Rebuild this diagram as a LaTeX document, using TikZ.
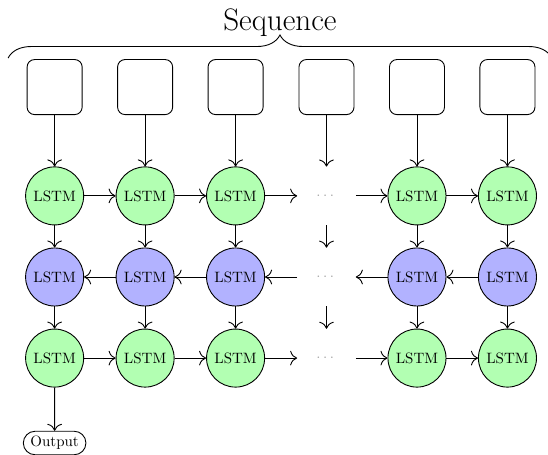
\documentclass[tikz,border=0pt]{standalone}
\usepackage{amsmath}
\usepackage{tikz}
\usetikzlibrary{arrows.meta,decorations.pathreplacing,shapes.misc}

\tikzset{
    seqbox/.style = {draw, rounded corners=5pt, minimum size=1.29cm, line width=0.6pt},
    cell/.style = {circle, minimum size=1.36cm, inner sep=0pt},
    fwd/.style = {cell, draw, fill=green!30, line width=0.6pt},
    bwd/.style = {cell, draw, fill=blue!30, line width=0.6pt},
    gap/.style = {cell, text=gray!70},
    outnode/.style = {draw, rounded rectangle, line width=0.6pt},
    link/.style = {-{To[scale=1.6]}, line width=0.6pt}
}

\begin{document}
\begin{tikzpicture}
        \useasboundingbox (0, 0) rectangle (12.84, 10.64);
        % title and brace
        \node[font = {\huge}, black] (title) at (6.56, 10.11) {Sequence};
        \draw[line width=0.6pt, decorate, decoration={brace, amplitude=0.54cm}] (0.19, 9.28) -- (12.93, 9.28);
        % input boxes
        \node[seqbox] (s1) at (1.28, 8.60) {};
        \node[seqbox] (s2) at (3.40, 8.60) {};
        \node[seqbox] (s3) at (5.52, 8.60) {};
        \node[seqbox] (s4) at (7.65, 8.60) {};
        \node[seqbox] (s5) at (9.77, 8.60) {};
        \node[seqbox] (s6) at (11.89, 8.60) {};
        % first layer
        \node[fwd] (a1) at (1.28, 6.05) {LSTM};
        \node[fwd] (a2) at (3.40, 6.05) {LSTM};
        \node[fwd] (a3) at (5.52, 6.05) {LSTM};
        \node[gap] (a4) at (7.65, 6.05) {$\cdots$};
        \node[fwd] (a5) at (9.77, 6.05) {LSTM};
        \node[fwd] (a6) at (11.89, 6.05) {LSTM};
        % second layer
        \node[bwd] (b1) at (1.28, 4.15) {LSTM};
        \node[bwd] (b2) at (3.40, 4.15) {LSTM};
        \node[bwd] (b3) at (5.52, 4.15) {LSTM};
        \node[gap] (b4) at (7.65, 4.15) {$\cdots$};
        \node[bwd] (b5) at (9.77, 4.15) {LSTM};
        \node[bwd] (b6) at (11.89, 4.15) {LSTM};
        % third layer
        \node[fwd] (c1) at (1.28, 2.25) {LSTM};
        \node[fwd] (c2) at (3.40, 2.25) {LSTM};
        \node[fwd] (c3) at (5.52, 2.25) {LSTM};
        \node[gap] (c4) at (7.65, 2.25) {$\cdots$};
        \node[fwd] (c5) at (9.77, 2.25) {LSTM};
        \node[fwd] (c6) at (11.89, 2.25) {LSTM};
        % output
        \node[outnode] (out) at (1.28, 0.26) {Output};
        % vertical links
        \draw[link] (s1) -- (a1); \draw[link] (a1) -- (b1); \draw[link] (b1) -- (c1);
        \draw[link] (s2) -- (a2); \draw[link] (a2) -- (b2); \draw[link] (b2) -- (c2);
        \draw[link] (s3) -- (a3); \draw[link] (a3) -- (b3); \draw[link] (b3) -- (c3);
        \draw[link] (s4) -- (a4); \draw[link] (a4) -- (b4); \draw[link] (b4) -- (c4);
        \draw[link] (s5) -- (a5); \draw[link] (a5) -- (b5); \draw[link] (b5) -- (c5);
        \draw[link] (s6) -- (a6); \draw[link] (a6) -- (b6); \draw[link] (b6) -- (c6);
        \draw[link] (c1) -- (out);
        % horizontal links
        \draw[link] (a1) -- (a2); \draw[link] (a2) -- (a3); \draw[link] (a3) -- (a4);
        \draw[link] (a4) -- (a5); \draw[link] (a5) -- (a6);
        \draw[link] (b2) -- (b1); \draw[link] (b3) -- (b2); \draw[link] (b4) -- (b3);
        \draw[link] (b5) -- (b4); \draw[link] (b6) -- (b5);
        \draw[link] (c1) -- (c2); \draw[link] (c2) -- (c3); \draw[link] (c3) -- (c4);
        \draw[link] (c4) -- (c5); \draw[link] (c5) -- (c6);
    \end{tikzpicture}
\end{document}
